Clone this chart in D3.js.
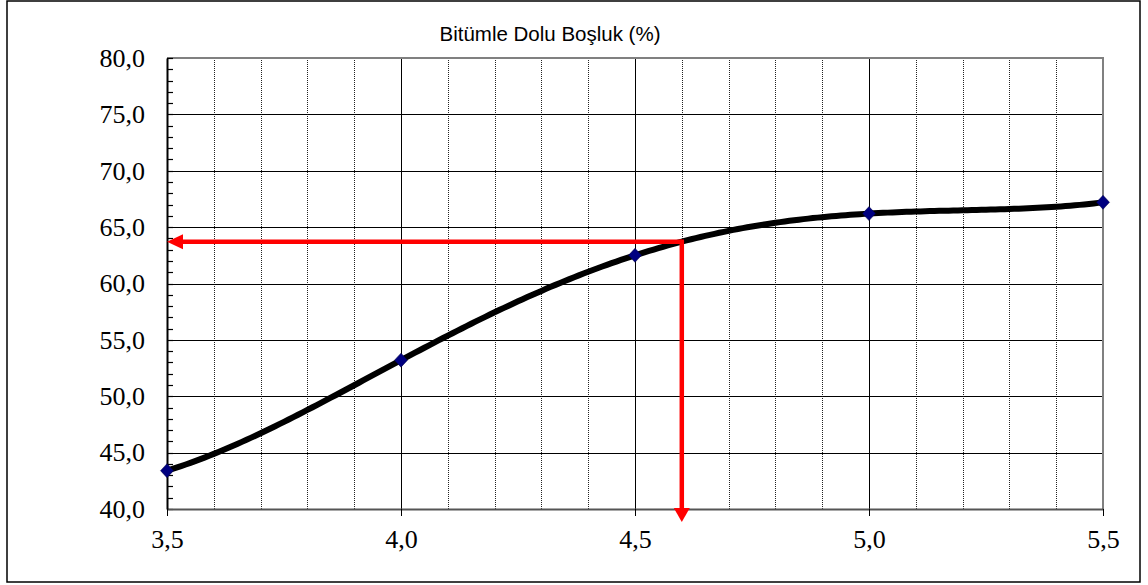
<!DOCTYPE html>
<html>
<head>
<meta charset="utf-8">
<script src="https://cdn.jsdelivr.net/npm/d3@7"></script>
<style>
  html, body { margin: 0; padding: 0; background: #fff; }
  svg { display: block; }
  .serif { font-family: "Liberation Serif", "Times New Roman", Times, "DejaVu Serif", serif; }
  .sans { font-family: "Liberation Sans", Arial, sans-serif; }
</style>
</head>
<body>
<svg id="chart" width="1148" height="585"></svg>
<script>
// Bitumen content (%) vs. voids filled with bitumen (%)
const bitumen = [3.5, 4.0, 4.5, 5.0, 5.5];
const vfb = [43.4, 53.2, 62.5, 66.2, 67.2];

// Design point
const designBitumen = 4.6;
const designVfb = 63.7;

const xTicks = [3.5, 4.0, 4.5, 5.0, 5.5];
const yTicks = [40, 45, 50, 55, 60, 65, 70, 75, 80];
const xMinor = [3.6, 3.7, 3.8, 3.9, 4.1, 4.2, 4.3, 4.4, 4.6, 4.7, 4.8, 4.9, 5.1, 5.2, 5.3, 5.4];
const yMinor = d3.range(40, 81, 1);

const title = "Bitümle Dolu Boşluk (%)";

const svg = d3.select("#chart");
const plot = { left: 167, right: 1103, top: 58, bottom: 509 };

const x = d3.scaleLinear().domain([3.5, 5.5]).range([plot.left, plot.right]);
const y = d3.scaleLinear().domain([40, 80]).range([plot.bottom, plot.top]);
const fmt = d => d.toFixed(1).replace(".", ",");

// outer frame
svg.append("rect")
  .attr("x", 7).attr("y", 1).attr("width", 1133).attr("height", 581)
  .attr("fill", "#fff").attr("stroke", "#000").attr("stroke-width", 1.5);

// title
svg.append("text")
  .attr("class", "sans")
  .attr("x", 550).attr("y", 41)
  .attr("text-anchor", "middle")
  .style("font-size", "20.5px")
  .attr("fill", "#000")
  .text(title);

const g = svg.append("g");

// minor vertical gridlines (dotted)
g.selectAll(".xminor").data(xMinor).enter().append("line")
  .attr("x1", d => Math.round(x(d)) + 0.5).attr("x2", d => Math.round(x(d)) + 0.5)
  .attr("y1", plot.top).attr("y2", plot.bottom)
  .attr("stroke", "#222").attr("stroke-width", 1)
  .attr("stroke-dasharray", "1,1");

// major vertical gridlines
g.selectAll(".xmajor").data(xTicks.slice(1, -1)).enter().append("line")
  .attr("x1", d => Math.round(x(d)) + 0.5).attr("x2", d => Math.round(x(d)) + 0.5)
  .attr("y1", plot.top).attr("y2", plot.bottom)
  .attr("stroke", "#000").attr("stroke-width", 1);

// horizontal gridlines
g.selectAll(".ymajor").data(yTicks.slice(1, -1)).enter().append("line")
  .attr("x1", plot.left).attr("x2", plot.right)
  .attr("y1", d => Math.round(y(d)) + 0.5).attr("y2", d => Math.round(y(d)) + 0.5)
  .attr("stroke", "#000").attr("stroke-width", 1);

// plot area border (top/right grey)
g.append("path")
  .attr("d", `M${plot.left},${plot.top}H${plot.right}V${plot.bottom}`)
  .attr("fill", "none").attr("stroke", "#808080").attr("stroke-width", 2);

// x axis
const xAxis = d3.axisBottom(x).tickValues(xTicks).tickFormat(fmt).tickSize(7).tickSizeOuter(0);
const gx = svg.append("g").attr("transform", `translate(0,${plot.bottom})`).call(xAxis)
  .attr("font-family", null).attr("font-size", null);
gx.select(".domain").attr("stroke", "#555").attr("stroke-width", 2);
gx.selectAll(".tick line").attr("stroke", "#000").attr("stroke-width", 1);
gx.selectAll(".tick text")
  .attr("class", "serif")
  .style("font-size", "26px").attr("fill", "#000")
  .attr("dy", null).attr("y", 39);

// y axis: major labels, minor ticks drawn inward
const yAxis = d3.axisLeft(y).tickValues(yTicks).tickFormat(fmt).tickSize(0).tickPadding(22).tickSizeOuter(0);
const gy = svg.append("g").attr("transform", `translate(${plot.left},0)`).call(yAxis)
  .attr("font-family", null).attr("font-size", null);
gy.select(".domain").attr("stroke", "#000").attr("stroke-width", 2);
gy.selectAll(".tick text")
  .attr("class", "serif")
  .style("font-size", "26px").attr("fill", "#000");

g.selectAll(".yminor").data(yMinor).enter().append("line")
  .attr("x1", plot.left).attr("x2", plot.left + 6)
  .attr("y1", d => Math.round(y(d)) + 0.5).attr("y2", d => Math.round(y(d)) + 0.5)
  .attr("stroke", "#000").attr("stroke-width", 1.2);

// 4th-order polynomial trendline through the five measurements (Lagrange form)
function trend(b) {
  let s = 0;
  for (let i = 0; i < bitumen.length; i++) {
    let l = 1;
    for (let j = 0; j < bitumen.length; j++) {
      if (j !== i) l *= (b - bitumen[j]) / (bitumen[i] - bitumen[j]);
    }
    s += vfb[i] * l;
  }
  return s;
}
const curvePts = d3.range(0, 201).map(k => {
  const b = 3.5 + (5.5 - 3.5) * k / 200;
  return [b, trend(b)];
});
const line = d3.line().x(d => x(d[0])).y(d => y(d[1]));
svg.append("path")
  .attr("d", line(curvePts))
  .attr("fill", "none").attr("stroke", "#000").attr("stroke-width", 6)
  .attr("stroke-linejoin", "round").attr("stroke-linecap", "butt");

// design-point arrows
const red = "#ff0000";
const xd = x(designBitumen), yd = y(designVfb);
svg.append("line")
  .attr("x1", xd).attr("x2", x(3.5) + 15)
  .attr("y1", yd).attr("y2", yd)
  .attr("stroke", red).attr("stroke-width", 4.5);
svg.append("path")
  .attr("d", `M${x(3.5)},${yd}L${x(3.5) + 16},${yd - 7.5}L${x(3.5) + 16},${yd + 7.5}Z`)
  .attr("fill", red);
svg.append("line")
  .attr("x1", xd).attr("x2", xd)
  .attr("y1", yd - 2.25).attr("y2", y(40) - 1)
  .attr("stroke", red).attr("stroke-width", 4.5);
svg.append("path")
  .attr("d", `M${xd},${y(40) + 13}L${xd - 8},${y(40) - 1}L${xd + 8},${y(40) - 1}Z`)
  .attr("fill", red);

// data markers
const pts = bitumen.map((b, i) => [b, vfb[i]]);
svg.selectAll(".marker").data(pts).enter().append("path")
  .attr("transform", d => `translate(${x(d[0])},${y(d[1])})`)
  .attr("d", "M0,-7L6.5,0L0,7L-6.5,0Z")
  .attr("fill", "#000080").attr("stroke", "#000040").attr("stroke-width", 0.5);
</script>
</body>
</html>
